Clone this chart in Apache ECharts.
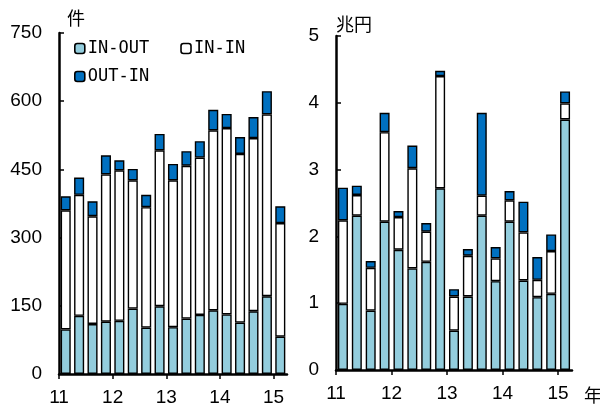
<!DOCTYPE html>
<html>
<head>
<meta charset="utf-8">
<title>M&A</title>
<script src="https://cdn.jsdelivr.net/npm/echarts@6/dist/echarts.min.js"></script>
<style>
  html, body { margin: 0; padding: 0; background: #fff; }
  .chart { width: 600px; height: 412px; }
</style>
</head>
<body>
<div class="chart"></div>
<script>
// 四半期 (11年1Q ～ 15年1Q)
var quarters = ['11Q1','11Q2','11Q3','11Q4','12Q1','12Q2','12Q3','12Q4','13Q1','13Q2','13Q3','13Q4','14Q1','14Q2','14Q3','14Q4','15Q1'];
var yearLabels = ['11', '12', '13', '14', '15'];
var yearTicks = [0, 4, 8, 12, 16];

// 件数
var countInOut = [98, 128, 110, 115, 117, 144, 102, 149, 103, 122, 130, 140, 131, 113, 138, 171, 82];
var countInIn  = [262, 266, 237, 324, 331, 282, 265, 343, 323, 336, 346, 396, 410, 371, 381, 400, 250];
var countOutIn = [31, 38, 33, 42, 22, 25, 27, 36, 36, 32, 36, 45, 31, 37, 46, 51, 37];

// 金額 (兆円)
var amtInOut = [0.99, 2.31, 0.89, 2.22, 1.80, 1.52, 1.62, 2.72, 0.59, 1.10, 2.31, 1.33, 2.22, 1.34, 1.09, 1.14, 3.75];
var amtInIn  = [1.25, 0.31, 0.64, 1.34, 0.49, 1.50, 0.45, 1.68, 0.51, 0.61, 0.30, 0.34, 0.32, 0.72, 0.26, 0.64, 0.24];
var amtOutIn = [0.49, 0.14, 0.10, 0.29, 0.09, 0.34, 0.13, 0.08, 0.11, 0.10, 1.24, 0.17, 0.14, 0.46, 0.34, 0.25, 0.18];

var chart = echarts.init(document.querySelector('.chart'));

var numFont = "'Liberation Sans Narrow', 'Liberation Sans', sans-serif";
var jpFont = "'Noto Sans CJK JP', sans-serif";
var monoFont = "'DejaVu Sans Mono', monospace";
var colInOut = '#93cddd';
var colInIn = '#ffffff';
var colOutIn = '#0070c0';

function barStyle(color) {
  return { color: color, borderColor: '#000', borderWidth: 1.4 };
}

// 年ラベル用の value 軸
function yearAxis(gridIndex) {
  return {
    type: 'value', gridIndex: gridIndex, position: 'bottom',
    min: 0, max: quarters.length,
    splitLine: { show: false },
    axisLine: { show: true, lineStyle: { color: '#000', width: 2.5 } },
    axisTick: { show: true, customValues: yearTicks, length: 5, lineStyle: { color: '#000', width: 1.5 } },
    axisLabel: {
      customValues: yearTicks, margin: 14,
      color: '#000', fontSize: 19, fontFamily: numFont,
      formatter: function (v) { return yearLabels[yearTicks.indexOf(v)] || ''; }
    }
  };
}

function valueAxis(gridIndex, max, interval) {
  return {
    type: 'value', gridIndex: gridIndex,
    min: 0, max: max, interval: interval,
    splitLine: { show: false },
    axisLine: { show: true, lineStyle: { color: '#000', width: 2.5 } },
    axisTick: { show: true, inside: true, length: 5, lineStyle: { color: '#000', width: 1.5 } },
    axisLabel: { color: '#000', fontSize: 19, fontFamily: numFont, margin: 17 }
  };
}

var option = {
  animation: false,
  title: [
    { text: '件', left: 62, top: 4, textStyle: { fontSize: 18, fontWeight: 'normal', color: '#000', fontFamily: jpFont } },
    { text: '兆円', left: 331, top: 10, textStyle: { fontSize: 18, fontWeight: 'normal', color: '#000', fontFamily: jpFont } },
    { text: '年', left: 579, top: 381, textStyle: { fontSize: 18, fontWeight: 'normal', color: '#000', fontFamily: jpFont } }
  ],
  legend: [
    {
      data: ['IN-OUT', 'IN-IN'], left: 69, top: 35,
      itemWidth: 10, itemHeight: 10, itemGap: 31,
      textStyle: { fontSize: 17, color: '#000', fontFamily: monoFont, padding: [0, 0, 0, -2] },
      itemStyle: { borderColor: '#000', borderWidth: 1.6 }
    },
    {
      data: ['OUT-IN'], left: 69, top: 63,
      itemWidth: 10, itemHeight: 10,
      textStyle: { fontSize: 17, color: '#000', fontFamily: monoFont, padding: [0, 0, 0, -2] },
      itemStyle: { borderColor: '#000', borderWidth: 1.6 }
    }
  ],
  grid: [
    { left: 59, top: 33, width: 228, bottom: 38 },
    { left: 336, top: 36, width: 236, bottom: 42 }
  ],
  xAxis: [
    { type: 'category', gridIndex: 0, data: quarters, show: false },
    { type: 'category', gridIndex: 1, data: quarters, show: false },
    yearAxis(0),
    yearAxis(1)
  ],
  yAxis: [
    valueAxis(0, 750, 150),
    valueAxis(1, 5, 1)
  ],
  series: [
    { name: 'IN-OUT', type: 'bar', stack: 'c', xAxisIndex: 0, yAxisIndex: 0, barCategoryGap: '25%', data: countInOut, itemStyle: barStyle(colInOut) },
    { name: 'IN-IN',  type: 'bar', stack: 'c', xAxisIndex: 0, yAxisIndex: 0, data: countInIn, itemStyle: barStyle(colInIn) },
    { name: 'OUT-IN', type: 'bar', stack: 'c', xAxisIndex: 0, yAxisIndex: 0, data: countOutIn, itemStyle: barStyle(colOutIn) },
    { name: 'IN-OUT', type: 'bar', stack: 'a', xAxisIndex: 1, yAxisIndex: 1, barCategoryGap: '28%', data: amtInOut, itemStyle: barStyle(colInOut) },
    { name: 'IN-IN',  type: 'bar', stack: 'a', xAxisIndex: 1, yAxisIndex: 1, data: amtInIn, itemStyle: barStyle(colInIn) },
    { name: 'OUT-IN', type: 'bar', stack: 'a', xAxisIndex: 1, yAxisIndex: 1, data: amtOutIn, itemStyle: barStyle(colOutIn) }
  ]
};

chart.setOption(option);
</script>
</body>
</html>
